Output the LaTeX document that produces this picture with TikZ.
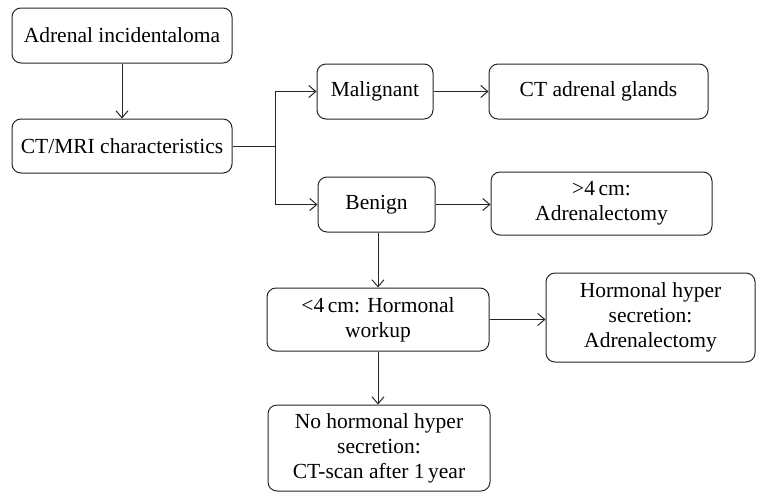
\documentclass[tikz,border=0pt]{standalone}
\usepackage{fontspec}
\setmainfont{Liberation Serif}
\usetikzlibrary{arrows.meta}

\begin{document}
\begin{tikzpicture}[x=1pt,y=-1pt,
  box/.style={draw=black!85, line width=1pt, rounded corners=9pt, align=center,
    inner sep=2pt, font=\fontsize{21.5}{25}\selectfont},
  link/.style={draw=black!85, line width=1pt},
  >={Straight Barb[length=7pt,width=12pt]}]
\useasboundingbox (0,0) rectangle (757,493);
% first column
\node[box, minimum width=220pt, minimum height=55pt] (incid) at (122,35.5) {Adrenal incidentaloma};
\node[box, minimum width=220pt, minimum height=54pt] (ctmri) at (122,146) {CT/MRI characteristics};
% second column
\node[box, minimum width=116pt, minimum height=55pt] (malig) at (375,91.5) {Malignant};
\node[box, minimum width=117pt, minimum height=55pt] (benign) at (376.5,204.5) {Benign};
\node[box, minimum width=222pt, minimum height=63pt] (workup) at (378,319.5) {<4\,cm: Hormonal\\workup};
\node[box, minimum width=222pt, minimum height=86pt] (nohyper) at (379,448) {No hormonal hyper\\secretion:\\CT-scan after 1\,year};
% third column
\node[box, minimum width=219pt, minimum height=55pt] (glands) at (598.5,91.5) {CT adrenal glands};
\node[box, minimum width=221pt, minimum height=63pt] (large) at (601.5,203.5) {>4\,cm:\\Adrenalectomy};
\node[box, minimum width=209pt, minimum height=89pt] (hyper) at (650.5,317.5) {Hormonal hyper\\secretion:\\Adrenalectomy};
\coordinate (fork) at (275,146);
% connectors
\draw[link,->] (incid) -- (ctmri);
\draw[link] (ctmri.east) -- (fork);
\draw[link,->] (fork) |- (malig.west);
\draw[link,->] (fork) |- (benign.west);
\draw[link,->] (malig) -- (glands);
\draw[link,->] (benign) -- (benign -| large.west);
\draw[link,->] (benign.south -| workup.north) -- (workup.north);
\draw[link,->] (workup.south) -- (nohyper.north -| workup.south);
\draw[link,->] (workup.east) -- (workup.east -| hyper.west);
\end{tikzpicture}
\end{document}
